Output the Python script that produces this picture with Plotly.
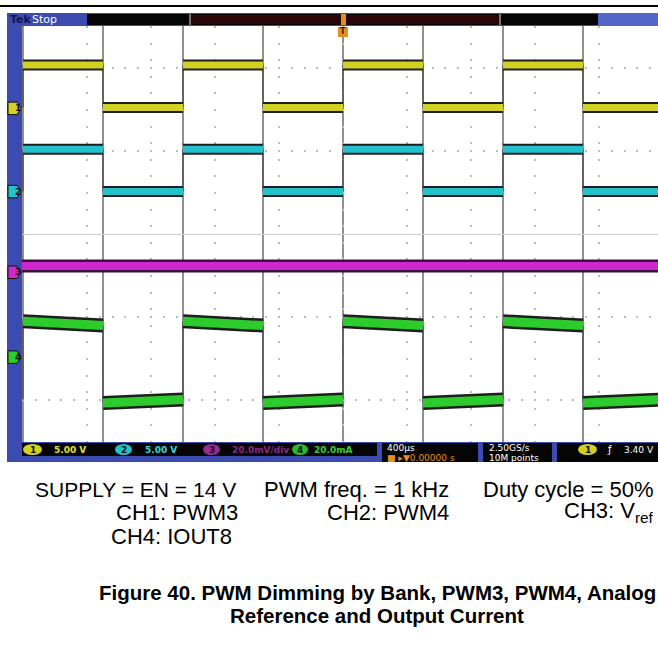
"""Scope capture: PWM dimming by bank (Tek screen) rebuilt with plotly."""
import plotly.graph_objects as go

W, H = 658, 647

# ---- time base: 400 us/div, trigger at 0 ----
EDGES_US = [-2000, -1500, -1000, -500, 0, 500, 1000, 1500, 2000]
STATE = [1, 0, 1, 0, 1, 0, 1, 0]          # 1 = high half-period

# ---- levels in screen divisions (centre line = 0) ----
CH1_HI, CH1_LO = 2.03, 1.52
CH2_HI, CH2_LO = 1.02, 0.51
CH3_LEVEL = -0.385
CH4_HI_START, CH4_HI_END = -1.05, -1.10
CH4_LO_START, CH4_LO_END = -2.03, -1.99
GND_MARKERS = [1.51, 0.51, -0.46, -1.48]
CH_NAMES = ["1", "2", "3", "4"]

# ---- colours ----
YEL, CYA, MAG, GRN = "#d2d020", "#22c2cc", "#d028d0", "#2ccc2c"
DARK = "#1e1e1e"
BLUE = "#3b4bb0"
BLUE2 = "#5266c8"
GRID = "#bcbcbc"
FONT = "Liberation Sans, Arial, sans-serif"
SCOPE_FONT = "DejaVu Sans, sans-serif"

STATUS_CH = [("1", "5.00 V", YEL, "#e2e23a", 23, 42, 52),
             ("2", "5.00 V", CYA, "#3cd4dc", 115, 132, 143),
             ("3", "20.0mV/div", "#9a2a9a", "#8a2a8a", 203, 220, 230),
             ("4", "20.0mA", "#2cb82c", "#38d038", 292, 308, 312)]

X0_PX, X1_PX, Y0_PX, Y1_PX = 22, 658, 26, 442
US_PER_PX = 400 / 64.0
XR = [-2000 - (23 - X0_PX) * US_PER_PX, -2000 + (X1_PX - 23) * US_PER_PX]


def px(x):
    return x / W


def py(y):
    return 1 - y / H


def bands(hi0, hi1, lo0, lo1):
    """Horizontal segments per half period (start/end level each)."""
    xs, ys = [], []
    for i, s in enumerate(STATE):
        xs += [EDGES_US[i], EDGES_US[i + 1], None]
        ys += [hi0, hi1, None] if s else [lo0, lo1, None]
    return xs, ys


def edges(hi0, hi1, lo0, lo1):
    """Thin vertical transitions between the levels."""
    xs, ys = [], []
    prev = 1 - STATE[0]
    for i, s in enumerate(STATE):
        a = (hi1 if prev else lo1)
        b = (hi0 if s else lo0)
        xs += [EDGES_US[i], EDGES_US[i], None]
        ys += [a, b, None]
        prev = s
    return xs, ys


fig = go.Figure()

# full-height grey transition lines
for t in EDGES_US:
    fig.add_shape(type="line", xref="x", yref="y domain", x0=t, x1=t, y0=0, y1=1,
                  line=dict(color="#909090", width=2), layer="below")

CHANNELS = [
    (CH1_HI, CH1_HI, CH1_LO, CH1_LO, YEL, 11, 7),
    (CH2_HI, CH2_HI, CH2_LO, CH2_LO, CYA, 11, 7),
    (CH4_HI_START, CH4_HI_END, CH4_LO_START, CH4_LO_END, GRN, 14, 9),
]
for hi0, hi1, lo0, lo1, col, wo, wi in CHANNELS:
    ex, ey = edges(hi0, hi1, lo0, lo1)
    fig.add_trace(go.Scatter(x=ex, y=ey, mode="lines", line=dict(color="#555555", width=1.5)))
    bx, by = bands(hi0, hi1, lo0, lo1)
    fig.add_trace(go.Scatter(x=bx, y=by, mode="lines", line=dict(color=DARK, width=wo)))
    fig.add_trace(go.Scatter(x=bx, y=by, mode="lines", line=dict(color=col, width=wi)))

# reference channel: flat line across the screen
fig.add_trace(go.Scatter(x=[EDGES_US[0] - 20, EDGES_US[-1]], y=[CH3_LEVEL] * 2, mode="lines",
                         line=dict(color="#3a103a", width=13)))
fig.add_trace(go.Scatter(x=[EDGES_US[0] - 20, EDGES_US[-1]], y=[CH3_LEVEL] * 2, mode="lines",
                         line=dict(color=MAG, width=8)))

shapes = []


def rect(x0, y0, x1, y1, color, **kw):
    shapes.append(dict(type="rect", xref="paper", yref="paper", x0=px(x0), x1=px(x1),
                       y0=py(y1), y1=py(y0), fillcolor=color, line=dict(width=0), **kw))


# top rule
shapes.append(dict(type="line", xref="paper", yref="paper", x0=0, x1=1, y0=py(6), y1=py(6),
                   line=dict(color="black", width=2)))
# scope frame
rect(7, 13, 658, Y0_PX, BLUE)
rect(598, 13, 658, Y0_PX, BLUE2)
rect(7, Y0_PX, X0_PX, Y1_PX, BLUE)
rect(7, Y1_PX, 658, 462, BLUE)
rect(87, 14, 598, 25, "#050505")
rect(190, 15, 500, 24, "#2a0808")
for xx in (190, 500):
    shapes.append(dict(type="line", xref="paper", yref="paper", x0=px(xx), x1=px(xx),
                       y0=py(25), y1=py(14), line=dict(color="#dddddd", width=1)))
# trigger marker
rect(341, 14, 346, 25, "#e09020")
rect(338, 27, 348, 37, "#e09020")
# status bar
rect(22, 443, 377, 456, "#050505")
rect(382, 443, 478, 462, "#050505")
rect(483, 443, 552, 462, "#050505")
rect(557, 443, 658, 462, "#050505")
for name, _, oval, _, xa, xb, _ in STATUS_CH:
    shapes.append(dict(type="circle", xref="paper", yref="paper", x0=px(xa), x1=px(xb),
                       y0=py(455), y1=py(444), fillcolor=oval, line=dict(width=0)))
shapes.append(dict(type="circle", xref="paper", yref="paper", x0=px(578), x1=px(597),
                   y0=py(455), y1=py(444), fillcolor=YEL, line=dict(width=0)))
# channel ground markers on the left bar
MARK_COL = [YEL, CYA, MAG, GRN]
for lvl, col in zip(GND_MARKERS, MARK_COL):
    x0, x1, x2 = px(8), px(17), px(21)
    shapes.append(dict(type="path", xref="paper", yref="y",
                       path=f"M{x0},{lvl + 0.075} L{x1},{lvl + 0.075} L{x2},{lvl} "
                            f"L{x1},{lvl - 0.075} L{x0},{lvl - 0.075} Z",
                       fillcolor=col, line=dict(color="#111111", width=1)))

ann = []


def text(x, y, s, size, color, family=FONT, anchor="left", bold=False):
    ann.append(dict(x=px(x), y=py(y), xref="paper", yref="paper", text=f"<b>{s}</b>" if bold else s,
                    showarrow=False, xanchor=anchor, yanchor="middle",
                    font=dict(size=size, color=color, family=family)))


text(8, 19, "Tek", 11, "#141450", SCOPE_FONT, bold=True)
text(30, 19, "Stop", 11, "white", SCOPE_FONT)
text(343, 32, "T", 8, "#402000", SCOPE_FONT, anchor="center", bold=True)
for lvl, name in zip(GND_MARKERS, CH_NAMES):
    ann.append(dict(x=px(13), y=lvl, xref="paper", yref="y", text=f"<b>{name}</b>",
                    showarrow=False, font=dict(size=9, color="#111111", family=SCOPE_FONT)))
for name, val, _, tcol, xa, xb, xt in STATUS_CH:
    text((xa + xb) / 2, 449.5, name, 9, "#111111", SCOPE_FONT, anchor="center", bold=True)
    text(xt, 449.5, val, 9, tcol, SCOPE_FONT, bold=True)
text(587.5, 449.5, "1", 9, "#111111", SCOPE_FONT, anchor="center", bold=True)
text(605, 449.5, "ƒ", 10, "white", SCOPE_FONT)
text(622, 449.5, "3.40 V", 9, "white", SCOPE_FONT)
text(385, 447.5, "400µs", 9, "white", SCOPE_FONT)
text(385, 457.5, "■ ▸▼0.00000 s", 9, "#e8901c", SCOPE_FONT)
text(487, 447.5, "2.50GS/s", 9, "white", SCOPE_FONT)
text(487, 457.5, "10M points", 9, "white", SCOPE_FONT)

# test conditions
text(238, 489, "SUPPLY = EN = 14 V", 21, "black", anchor="right")
text(451, 489, "PWM freq. = 1 kHz", 22, "black", anchor="right")
text(656, 489, "Duty cycle = 50%", 22, "black", anchor="right")
text(240, 512, "CH1: PWM3", 22, "black", anchor="right")
text(451, 512, "CH2: PWM4", 22, "black", anchor="right")
text(656, 512, "CH3: V<sub>ref</sub>", 22, "black", anchor="right")
text(109, 536, "CH4: IOUT8", 22, "black")
text(377, 592, "Figure 40. PWM Dimming by Bank, PWM3, PWM4, Analog", 20.5, "black",
     anchor="center", bold=True)
text(377, 615, "Reference and Output Current", 20.5, "black", anchor="center", bold=True)

fig.update_layout(
    width=W, height=H, margin=dict(l=0, r=0, t=0, b=0),
    paper_bgcolor="white", plot_bgcolor="white", showlegend=False,
    shapes=list(fig.layout.shapes) + shapes, annotations=ann,
    xaxis=dict(domain=[px(X0_PX), px(X1_PX)], range=XR, tick0=0, dtick=400,
               showticklabels=False, ticks="", zeroline=False, showline=False,
               showgrid=True, gridcolor=GRID, gridwidth=1.5, griddash="2px,14.6px"),
    yaxis=dict(domain=[py(Y1_PX), py(Y0_PX)], range=[-2.5, 2.5], tick0=0, dtick=1,
               showticklabels=False, ticks="", zeroline=True, zerolinecolor="#cfcfcf",
               zerolinewidth=1, showline=False,
               showgrid=True, gridcolor=GRID, gridwidth=1.5, griddash="2px,10.8px"),
    hovermode=False,
)

fig.write_html("out.html", config={"displayModeBar": False},
               post_script="document.body.style.margin='0';document.body.style.overflow='hidden';")
